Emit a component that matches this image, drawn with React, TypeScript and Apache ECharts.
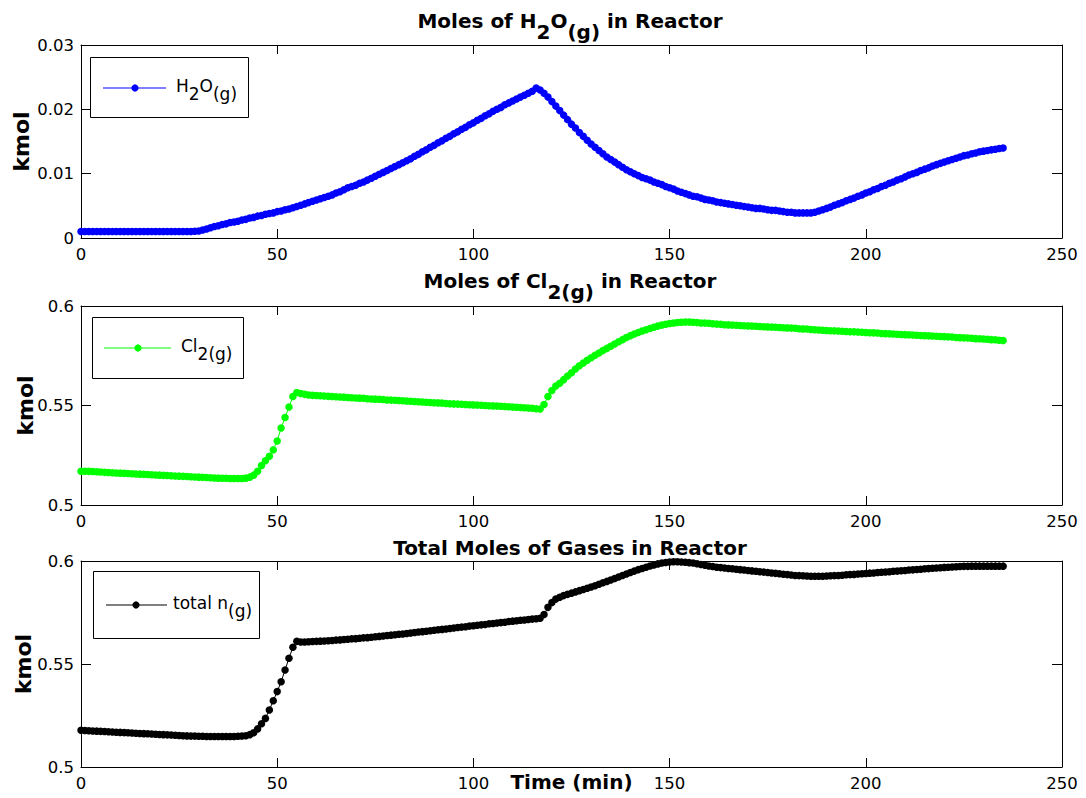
import React, { useEffect, useRef } from 'react';
import * as echarts from 'echarts';

// time in minutes (one sample per minute)
const TIME_MIN: number[] = Array.from({ length: 236 }, (_, i) => i);

const H2O_KMOL: number[] = [
  0.0010, 0.0010, 0.0010, 0.0010, 0.0010, 0.0010, 0.0010, 0.0010, 0.0010, 0.0010,
  0.0010, 0.0010, 0.0010, 0.0010, 0.0010, 0.0010, 0.0010, 0.0010, 0.0010, 0.0010,
  0.0010, 0.0010, 0.0010, 0.0010, 0.0010, 0.0010, 0.0010, 0.0010, 0.0010, 0.00105,
  0.0011, 0.00125, 0.0014, 0.0016, 0.0018, 0.0019, 0.0021, 0.0022, 0.0024, 0.0025,
  0.0026, 0.0028, 0.0029, 0.0031, 0.0032, 0.0034, 0.0035, 0.0037, 0.0038, 0.0039,
  0.0041, 0.0042, 0.0044, 0.0045, 0.0047, 0.0049, 0.0051, 0.0053, 0.0055, 0.0057,
  0.0059, 0.0061, 0.0063, 0.0065, 0.0067, 0.0070, 0.0072, 0.0075, 0.0078, 0.0080,
  0.0082, 0.0085, 0.0087, 0.0090, 0.0093, 0.0096, 0.0099, 0.0102, 0.0105, 0.0108,
  0.0111, 0.0114, 0.0117, 0.0120, 0.0123, 0.0127, 0.0130, 0.0134, 0.0137, 0.0141,
  0.0144, 0.0148, 0.0151, 0.0155, 0.0158, 0.0162, 0.0165, 0.0169, 0.0172, 0.0176,
  0.0179, 0.0183, 0.0186, 0.0190, 0.0193, 0.0197, 0.0200, 0.0203, 0.0207, 0.0210,
  0.0213, 0.0216, 0.0219, 0.0222, 0.0225, 0.0228, 0.0233, 0.0230, 0.0225, 0.0219,
  0.0212, 0.0205, 0.0198, 0.0191, 0.0184, 0.0177, 0.0171, 0.0164, 0.0158, 0.0152,
  0.0146, 0.0141, 0.0136, 0.0131, 0.0126, 0.0122, 0.0118, 0.0114, 0.0110, 0.0106,
  0.0103, 0.0100, 0.0097, 0.0094, 0.0092, 0.0090, 0.0087, 0.0085, 0.0083, 0.0080,
  0.0078, 0.0076, 0.0073, 0.0071, 0.0069, 0.0067, 0.0065, 0.0064, 0.0062, 0.0060,
  0.0059, 0.0058, 0.0056, 0.0055, 0.0054, 0.0053, 0.0052, 0.0051, 0.0050, 0.0049,
  0.0048, 0.0047, 0.0046, 0.0046, 0.0045, 0.0044, 0.0043, 0.0043, 0.0042, 0.0041,
  0.0040, 0.0040, 0.0039, 0.0039, 0.0039, 0.0039, 0.0039, 0.0040, 0.0042, 0.0044,
  0.0046, 0.0048, 0.0051, 0.0053, 0.0055, 0.0058, 0.0060, 0.0062, 0.0065, 0.0067,
  0.0070, 0.0072, 0.0075, 0.0077, 0.0080, 0.0082, 0.0085, 0.0087, 0.0090, 0.0092,
  0.0095, 0.0098, 0.0100, 0.0102, 0.0105, 0.0107, 0.0109, 0.0112, 0.0114, 0.0116,
  0.0118, 0.0120, 0.0122, 0.0124, 0.0126, 0.0128, 0.0129, 0.0131, 0.0132, 0.0134,
  0.0135, 0.0136, 0.0137, 0.0138, 0.0139, 0.0140,
];

const CL2_KMOL: number[] = [
  0.5170, 0.5170, 0.5169, 0.5168, 0.5167, 0.5166, 0.5164, 0.5163, 0.5162, 0.5161,
  0.5160, 0.5159, 0.5158, 0.5157, 0.5156, 0.5155, 0.5154, 0.5153, 0.5152, 0.5151,
  0.5150, 0.5149, 0.5148, 0.5147, 0.5146, 0.5145, 0.5144, 0.5143, 0.5142, 0.5141,
  0.5140, 0.5139, 0.5138, 0.5137, 0.5136, 0.5135, 0.5134, 0.5134, 0.5133, 0.5133,
  0.5133, 0.5133, 0.5135, 0.5140, 0.5150, 0.5170, 0.5198, 0.5222, 0.5245, 0.5277,
  0.5322, 0.5387, 0.5440, 0.5492, 0.5545, 0.5565, 0.5560, 0.5556, 0.5553, 0.5551,
  0.5550, 0.5549, 0.5548, 0.5546, 0.5545, 0.5544, 0.5543, 0.5542, 0.5540, 0.5539,
  0.5538, 0.5537, 0.5536, 0.5534, 0.5533, 0.5532, 0.5531, 0.5530, 0.5528, 0.5527,
  0.5526, 0.5525, 0.5524, 0.5522, 0.5521, 0.5520, 0.5519, 0.5518, 0.5516, 0.5515,
  0.5514, 0.5513, 0.5512, 0.5510, 0.5509, 0.5508, 0.5507, 0.5506, 0.5505, 0.5504,
  0.5503, 0.5502, 0.5501, 0.5500, 0.5499, 0.5498, 0.5497, 0.5496, 0.5495, 0.5494,
  0.5492, 0.5491, 0.5490, 0.5489, 0.5487, 0.5486, 0.5484, 0.5482, 0.5505, 0.5545,
  0.5575, 0.5598, 0.5612, 0.5630, 0.5648, 0.5665, 0.5683, 0.5700, 0.5713, 0.5727,
  0.5740, 0.5752, 0.5764, 0.5776, 0.5787, 0.5798, 0.5809, 0.5820, 0.5831, 0.5842,
  0.5851, 0.5859, 0.5867, 0.5874, 0.5881, 0.5887, 0.5893, 0.5899, 0.5904, 0.5908,
  0.5912, 0.5915, 0.5917, 0.5918, 0.5919, 0.5919, 0.5918, 0.5917, 0.5915, 0.5914,
  0.5913, 0.5911, 0.5909, 0.5908, 0.5906, 0.5905, 0.5904, 0.5903, 0.5902, 0.5901,
  0.5900, 0.5899, 0.5898, 0.5897, 0.5896, 0.5895, 0.5894, 0.5893, 0.5892, 0.5891,
  0.5890, 0.5889, 0.5888, 0.5886, 0.5885, 0.5884, 0.5882, 0.5881, 0.5879, 0.5878,
  0.5877, 0.5876, 0.5875, 0.5874, 0.5873, 0.5872, 0.5871, 0.5870, 0.5869, 0.5868,
  0.5867, 0.5866, 0.5865, 0.5864, 0.5862, 0.5861, 0.5860, 0.5859, 0.5858, 0.5857,
  0.5856, 0.5855, 0.5854, 0.5853, 0.5852, 0.5851, 0.5850, 0.5849, 0.5848, 0.5847,
  0.5846, 0.5845, 0.5844, 0.5842, 0.5841, 0.5840, 0.5839, 0.5838, 0.5836, 0.5835,
  0.5834, 0.5833, 0.5831, 0.5830, 0.5828, 0.5827,
];

const TOTAL_KMOL: number[] = [
  0.5178, 0.5177, 0.5176, 0.5175, 0.5174, 0.5173, 0.5172, 0.5171, 0.5170, 0.5169,
  0.5168, 0.5167, 0.5166, 0.5165, 0.5164, 0.5163, 0.5162, 0.5161, 0.5160, 0.5159,
  0.5158, 0.5157, 0.5156, 0.5155, 0.5154, 0.5153, 0.5152, 0.5151, 0.5150, 0.5150,
  0.5149, 0.5149, 0.5148, 0.5148, 0.5148, 0.5148, 0.5148, 0.5148, 0.5148, 0.5148,
  0.5149, 0.5150, 0.5152, 0.5157, 0.5166, 0.5185, 0.5210, 0.5236, 0.5277, 0.5322,
  0.5366, 0.5414, 0.5471, 0.5528, 0.5581, 0.5610, 0.5607, 0.5607, 0.5608, 0.5609,
  0.5610, 0.5611, 0.5612, 0.5613, 0.5614, 0.5616, 0.5617, 0.5619, 0.5620, 0.5622,
  0.5623, 0.5625, 0.5627, 0.5628, 0.5630, 0.5632, 0.5634, 0.5636, 0.5638, 0.5640,
  0.5642, 0.5644, 0.5646, 0.5648, 0.5650, 0.5653, 0.5655, 0.5657, 0.5659, 0.5661,
  0.5664, 0.5666, 0.5668, 0.5670, 0.5672, 0.5675, 0.5677, 0.5679, 0.5681, 0.5684,
  0.5686, 0.5688, 0.5690, 0.5692, 0.5695, 0.5697, 0.5699, 0.5701, 0.5703, 0.5706,
  0.5708, 0.5710, 0.5712, 0.5714, 0.5716, 0.5718, 0.5720, 0.5722, 0.5740, 0.5775,
  0.5798, 0.5815, 0.5824, 0.5832, 0.5838, 0.5844, 0.5850, 0.5856, 0.5862, 0.5868,
  0.5874, 0.5880, 0.5887, 0.5894, 0.5901, 0.5908, 0.5915, 0.5922, 0.5930, 0.5937,
  0.5944, 0.5951, 0.5958, 0.5964, 0.5970, 0.5976, 0.5981, 0.5986, 0.5990, 0.5993,
  0.5995, 0.5996, 0.5996, 0.5995, 0.5994, 0.5992, 0.5990, 0.5987, 0.5983, 0.5979,
  0.5976, 0.5973, 0.5970, 0.5968, 0.5966, 0.5964, 0.5962, 0.5960, 0.5958, 0.5956,
  0.5954, 0.5952, 0.5950, 0.5948, 0.5946, 0.5944, 0.5942, 0.5940, 0.5938, 0.5936,
  0.5934, 0.5932, 0.5930, 0.5929, 0.5928, 0.5927, 0.5926, 0.5926, 0.5926, 0.5926,
  0.5927, 0.5928, 0.5929, 0.5930, 0.5931, 0.5933, 0.5934, 0.5935, 0.5937, 0.5938,
  0.5939, 0.5941, 0.5942, 0.5944, 0.5945, 0.5947, 0.5948, 0.5950, 0.5951, 0.5953,
  0.5954, 0.5956, 0.5957, 0.5959, 0.5960, 0.5962, 0.5963, 0.5965, 0.5966, 0.5967,
  0.5969, 0.5970, 0.5971, 0.5972, 0.5973, 0.5974, 0.5974, 0.5975, 0.5975, 0.5975,
  0.5975, 0.5975, 0.5975, 0.5975, 0.5975, 0.5975,
];

const X_RANGE = { min: 0, max: 250, interval: 50 };
const Y_RANGES = [
  { min: 0, max: 0.03, interval: 0.01 },
  { min: 0.5, max: 0.6, interval: 0.05 },
  { min: 0.5, max: 0.6, interval: 0.05 },
];
const SERIES_NAMES = ['H2O(g)', 'Cl2(g)', 'total n(g)'];
const SERIES_COLORS = ['#0000ff', '#00ff00', '#000000'];

const FONT = 'DejaVu Sans';

export default function App() {
  const ref = useRef<HTMLDivElement>(null);

  useEffect(() => {
    if (!ref.current) return;
    const chart = echarts.init(ref.current, null, { renderer: 'svg' });

    const grids = [
      { left: 81, top: 45, width: 981, height: 193 },
      { left: 81, top: 306, width: 981, height: 199 },
      { left: 81, top: 561, width: 981, height: 206 },
    ];
    const yNameGaps = [49, 45, 46.5];
    const values = [H2O_KMOL, CL2_KMOL, TOTAL_KMOL];

    const axisLine = { show: true, onZero: false, lineStyle: { color: '#000', width: 1 } };
    const xAxes: any[] = [];
    const yAxes: any[] = [];
    grids.forEach((_, i) => {
      const xBase = {
        type: 'value',
        gridIndex: i,
        ...X_RANGE,
        axisLine,
        splitLine: { show: false },
        axisTick: { show: true, inside: true, length: 9, lineStyle: { color: '#000' } },
      };
      xAxes.push({
        ...xBase,
        position: 'bottom',
        axisLabel: { color: '#000', fontSize: 16.5, fontFamily: FONT, margin: 8 },
        ...(i === 2
          ? {
              name: 'Time (min)',
              nameLocation: 'middle',
              nameGap: 5,
              nameMoveOverlap: false,
              nameTextStyle: { color: '#000', fontSize: 20, fontWeight: 'bold', fontFamily: FONT },
            }
          : {}),
      });
      xAxes.push({ ...xBase, position: 'top', axisLabel: { show: false } });

      const yBase = {
        type: 'value',
        gridIndex: i,
        ...Y_RANGES[i],
        axisLine,
        splitLine: { show: false },
        axisTick: { show: true, inside: true, length: 10, lineStyle: { color: '#000' } },
      };
      yAxes.push({
        ...yBase,
        position: 'left',
        axisLabel: { color: '#000', fontSize: 16.5, fontFamily: FONT, margin: 7 },
        name: 'kmol',
        nameLocation: 'middle',
        nameGap: yNameGaps[i],
        nameMoveOverlap: false,
        nameTextStyle: { color: '#000', fontSize: 22, fontWeight: 'bold', fontFamily: FONT },
      });
      yAxes.push({ ...yBase, position: 'right', axisLabel: { show: false } });
    });

    const series = values.map((vals, i) => ({
      name: SERIES_NAMES[i],
      type: 'line',
      xAxisIndex: i * 2,
      yAxisIndex: i * 2,
      data: TIME_MIN.map((t, k) => [t, vals[k]]),
      symbol: 'circle',
      symbolSize: 7.5,
      showSymbol: true,
      lineStyle: { color: SERIES_COLORS[i], width: 1 },
      itemStyle: { color: SERIES_COLORS[i] },
      emphasis: { disabled: true },
      clip: false,
    }));

    const titleRich = {
      a: { fontSize: 20, fontWeight: 'bold', fontFamily: FONT, fill: '#000', verticalAlign: 'top' },
      s: { fontSize: 20, fontWeight: 'bold', fontFamily: FONT, fill: '#000', verticalAlign: 'top', padding: [11, 0, 0, 0] },
    };
    const legendRich = {
      a: { fontSize: 17, fontFamily: FONT, fill: '#000', verticalAlign: 'top' },
      s: { fontSize: 17, fontFamily: FONT, fill: '#000', verticalAlign: 'top', padding: [8, 0, 0, 0] },
    };

    const titles = [
      { y: 10.5, text: '{a|Moles of H}{s|2}{a|O}{s|(g)}{a|\u00a0in Reactor}' },
      { y: 270.5, text: '{a|Moles of Cl}{s|2(g)}{a|\u00a0in Reactor}' },
      { y: 537.5, text: '{a|Total Moles of Gases in Reactor}' },
    ];

    const legends = [
      { box: [90, 57, 158, 60], lineY: 88, x1: 103, x2: 166, cx: 135, tx: 176, ty: 77.8, text: '{a|H}{s|2}{a|O}{s|(g)}' },
      { box: [92, 317, 151, 61], lineY: 348, x1: 104, x2: 171, cx: 138, tx: 181, ty: 337.8, text: '{a|Cl}{s|2(g)}' },
      { box: [93, 571, 166, 67], lineY: 605, x1: 106, x2: 167, cx: 136, tx: 173, ty: 594.5, text: '{a|total n}{s|(g)}' },
    ];

    const graphic: any[] = [];
    titles.forEach((t) => {
      graphic.push({
        type: 'text',
        x: 570,
        y: t.y,
        z: 100,
        style: { text: t.text, rich: titleRich, align: 'center', verticalAlign: 'top', fill: '#000' },
      });
    });
    legends.forEach((l, i) => {
      graphic.push({
        type: 'group',
        z: 100,
        children: [
          {
            type: 'rect',
            shape: { x: l.box[0] + 0.5, y: l.box[1] + 0.5, width: l.box[2], height: l.box[3] },
            style: { fill: '#fff', stroke: '#000', lineWidth: 1 },
            z: 100,
          },
          {
            type: 'line',
            shape: { x1: l.x1, y1: l.lineY, x2: l.x2, y2: l.lineY },
            style: { stroke: SERIES_COLORS[i], lineWidth: 1 },
            z: 101,
          },
          {
            type: 'circle',
            shape: { cx: l.cx, cy: l.lineY, r: 3.6 },
            style: { fill: SERIES_COLORS[i] },
            z: 101,
          },
          {
            type: 'text',
            x: l.tx,
            y: l.ty,
            z: 101,
            style: { text: l.text, rich: legendRich, align: 'left', verticalAlign: 'top', fill: '#000' },
          },
        ],
      });
    });

    chart.setOption({
      animation: false,
      backgroundColor: '#fff',
      grid: grids.map((g) => ({ ...g, containLabel: false, outerBoundsMode: 'none' })),
      xAxis: xAxes,
      yAxis: yAxes,
      series,
      graphic,
    });

    return () => chart.dispose();
  }, []);

  return (
    <div
      ref={ref}
      style={{ position: 'fixed', left: 0, top: 0, width: 1086, height: 798, background: '#fff' }}
    />
  );
}
